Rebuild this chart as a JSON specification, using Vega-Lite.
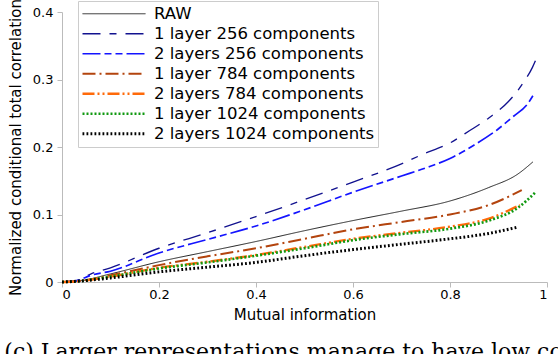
{
  "$schema": "https://vega.github.io/schema/vega-lite/v6.json",
  "width": 485,
  "height": 270,
  "autosize": {"type": "none"},
  "padding": {"left": 62, "top": 12, "right": 11, "bottom": 72},
  "background": "white",
  "title": {
    "text": "(c) Larger representations manage to have low con",
    "orient": "bottom",
    "anchor": "start",
    "frame": "bounds",
    "font": "DejaVu Serif",
    "fontSize": 22,
    "fontWeight": "normal",
    "color": "black",
    "offset": 20,
    "dx": -4
  },
  "config": {
    "view": {"stroke": null},
    "font": "DejaVu Sans",
    "axis": {
      "grid": false,
      "domainColor": "#bbbbbb",
      "tickColor": "#bbbbbb",
      "tickSize": 5,
      "labelFont": "DejaVu Sans",
      "labelFontSize": 13,
      "labelColor": "black",
      "titleFont": "DejaVu Sans",
      "titleFontSize": 15,
      "titleFontWeight": "normal",
      "titleColor": "black"
    }
  },
  "data": {
    "values": [
      {"series": "RAW", "x": 0, "y": 0},
      {"series": "RAW", "x": 0.03, "y": 0.001},
      {"series": "RAW", "x": 0.1, "y": 0.012},
      {"series": "RAW", "x": 0.2, "y": 0.030},
      {"series": "RAW", "x": 0.3, "y": 0.045},
      {"series": "RAW", "x": 0.4, "y": 0.060},
      {"series": "RAW", "x": 0.5, "y": 0.076},
      {"series": "RAW", "x": 0.6, "y": 0.091},
      {"series": "RAW", "x": 0.7, "y": 0.105},
      {"series": "RAW", "x": 0.8, "y": 0.120},
      {"series": "RAW", "x": 0.88, "y": 0.140},
      {"series": "RAW", "x": 0.94, "y": 0.160},
      {"series": "RAW", "x": 0.971, "y": 0.178},

      {"series": "1 layer 256 components", "x": 0, "y": 0},
      {"series": "1 layer 256 components", "x": 0.03, "y": 0.002},
      {"series": "1 layer 256 components", "x": 0.06, "y": 0.012},
      {"series": "1 layer 256 components", "x": 0.1, "y": 0.021},
      {"series": "1 layer 256 components", "x": 0.2, "y": 0.050},
      {"series": "1 layer 256 components", "x": 0.3, "y": 0.073},
      {"series": "1 layer 256 components", "x": 0.4, "y": 0.097},
      {"series": "1 layer 256 components", "x": 0.5, "y": 0.122},
      {"series": "1 layer 256 components", "x": 0.6, "y": 0.148},
      {"series": "1 layer 256 components", "x": 0.7, "y": 0.175},
      {"series": "1 layer 256 components", "x": 0.74, "y": 0.188},
      {"series": "1 layer 256 components", "x": 0.8, "y": 0.206},
      {"series": "1 layer 256 components", "x": 0.84, "y": 0.224},
      {"series": "1 layer 256 components", "x": 0.88, "y": 0.243},
      {"series": "1 layer 256 components", "x": 0.92, "y": 0.267},
      {"series": "1 layer 256 components", "x": 0.95, "y": 0.294},
      {"series": "1 layer 256 components", "x": 0.97, "y": 0.318},
      {"series": "1 layer 256 components", "x": 0.981, "y": 0.336},

      {"series": "2 layers 256 components", "x": 0, "y": 0},
      {"series": "2 layers 256 components", "x": 0.03, "y": 0.002},
      {"series": "2 layers 256 components", "x": 0.06, "y": 0.010},
      {"series": "2 layers 256 components", "x": 0.1, "y": 0.016},
      {"series": "2 layers 256 components", "x": 0.2, "y": 0.043},
      {"series": "2 layers 256 components", "x": 0.3, "y": 0.063},
      {"series": "2 layers 256 components", "x": 0.4, "y": 0.083},
      {"series": "2 layers 256 components", "x": 0.5, "y": 0.107},
      {"series": "2 layers 256 components", "x": 0.6, "y": 0.133},
      {"series": "2 layers 256 components", "x": 0.7, "y": 0.157},
      {"series": "2 layers 256 components", "x": 0.75, "y": 0.169},
      {"series": "2 layers 256 components", "x": 0.8, "y": 0.183},
      {"series": "2 layers 256 components", "x": 0.85, "y": 0.203},
      {"series": "2 layers 256 components", "x": 0.9, "y": 0.227},
      {"series": "2 layers 256 components", "x": 0.93, "y": 0.245},
      {"series": "2 layers 256 components", "x": 0.96, "y": 0.264},
      {"series": "2 layers 256 components", "x": 0.975, "y": 0.281},

      {"series": "1 layer 784 components", "x": 0, "y": 0},
      {"series": "1 layer 784 components", "x": 0.03, "y": 0.001},
      {"series": "1 layer 784 components", "x": 0.1, "y": 0.010},
      {"series": "1 layer 784 components", "x": 0.2, "y": 0.025},
      {"series": "1 layer 784 components", "x": 0.3, "y": 0.038},
      {"series": "1 layer 784 components", "x": 0.4, "y": 0.050},
      {"series": "1 layer 784 components", "x": 0.5, "y": 0.064},
      {"series": "1 layer 784 components", "x": 0.6, "y": 0.078},
      {"series": "1 layer 784 components", "x": 0.7, "y": 0.089},
      {"series": "1 layer 784 components", "x": 0.8, "y": 0.100},
      {"series": "1 layer 784 components", "x": 0.88, "y": 0.114},
      {"series": "1 layer 784 components", "x": 0.948, "y": 0.136},

      {"series": "2 layers 784 components", "x": 0, "y": 0},
      {"series": "2 layers 784 components", "x": 0.03, "y": 0.001},
      {"series": "2 layers 784 components", "x": 0.1, "y": 0.008},
      {"series": "2 layers 784 components", "x": 0.2, "y": 0.021},
      {"series": "2 layers 784 components", "x": 0.3, "y": 0.030},
      {"series": "2 layers 784 components", "x": 0.4, "y": 0.040},
      {"series": "2 layers 784 components", "x": 0.5, "y": 0.052},
      {"series": "2 layers 784 components", "x": 0.6, "y": 0.064},
      {"series": "2 layers 784 components", "x": 0.7, "y": 0.073},
      {"series": "2 layers 784 components", "x": 0.8, "y": 0.082},
      {"series": "2 layers 784 components", "x": 0.88, "y": 0.094},
      {"series": "2 layers 784 components", "x": 0.944, "y": 0.114},

      {"series": "1 layer 1024 components", "x": 0, "y": 0},
      {"series": "1 layer 1024 components", "x": 0.03, "y": 0.001},
      {"series": "1 layer 1024 components", "x": 0.1, "y": 0.008},
      {"series": "1 layer 1024 components", "x": 0.2, "y": 0.020},
      {"series": "1 layer 1024 components", "x": 0.3, "y": 0.029},
      {"series": "1 layer 1024 components", "x": 0.4, "y": 0.039},
      {"series": "1 layer 1024 components", "x": 0.5, "y": 0.050},
      {"series": "1 layer 1024 components", "x": 0.6, "y": 0.062},
      {"series": "1 layer 1024 components", "x": 0.7, "y": 0.071},
      {"series": "1 layer 1024 components", "x": 0.8, "y": 0.079},
      {"series": "1 layer 1024 components", "x": 0.88, "y": 0.091},
      {"series": "1 layer 1024 components", "x": 0.94, "y": 0.110},
      {"series": "1 layer 1024 components", "x": 0.975, "y": 0.132},

      {"series": "2 layers 1024 components", "x": 0, "y": 0},
      {"series": "2 layers 1024 components", "x": 0.03, "y": 0.001},
      {"series": "2 layers 1024 components", "x": 0.1, "y": 0.006},
      {"series": "2 layers 1024 components", "x": 0.2, "y": 0.015},
      {"series": "2 layers 1024 components", "x": 0.3, "y": 0.022},
      {"series": "2 layers 1024 components", "x": 0.4, "y": 0.029},
      {"series": "2 layers 1024 components", "x": 0.5, "y": 0.039},
      {"series": "2 layers 1024 components", "x": 0.6, "y": 0.048},
      {"series": "2 layers 1024 components", "x": 0.7, "y": 0.056},
      {"series": "2 layers 1024 components", "x": 0.8, "y": 0.064},
      {"series": "2 layers 1024 components", "x": 0.88, "y": 0.072},
      {"series": "2 layers 1024 components", "x": 0.938, "y": 0.081}
    ]
  },
  "mark": {"type": "line", "clip": false, "interpolate": "monotone"},
  "encoding": {
    "x": {
      "field": "x", "type": "quantitative",
      "scale": {"domain": [0, 1], "nice": false, "zero": false},
      "axis": {"title": "Mutual information", "values": [0, 0.2, 0.4, 0.6, 0.8, 1], "format": "~g", "labelPadding": 1, "titlePadding": 6}
    },
    "y": {
      "field": "y", "type": "quantitative",
      "scale": {"domain": [0, 0.4], "nice": false},
      "axis": {"title": "Normalized conditional total correlation", "values": [0, 0.1, 0.2, 0.3, 0.4], "format": "~g", "labelPadding": 4, "titlePadding": 9}
    },
    "color": {
      "field": "series", "type": "nominal",
      "scale": {
        "domain": ["RAW", "1 layer 256 components", "2 layers 256 components", "1 layer 784 components", "2 layers 784 components", "1 layer 1024 components", "2 layers 1024 components"],
        "range": ["#222222", "#12128f", "#1414ff", "#b3440e", "#ff6a0a", "#119911", "#000000"]
      },
      "legend": {
        "title": null,
        "orient": "none",
        "legendX": 16,
        "legendY": -11,
        "symbolType": "stroke",
        "symbolSize": 3969,
        "clipHeight": 19.5,
        "rowPadding": 0,
        "labelFont": "DejaVu Sans",
        "labelFontSize": 16.5,
        "labelColor": "black",
        "labelOffset": 7,
        "padding": 3,
        "strokeColor": "#cccccc",
        "fillColor": "white",
        "cornerRadius": 0,
        "labelLimit": 400
      }
    },
    "strokeDash": {
      "field": "series", "type": "nominal",
      "scale": {
        "domain": ["RAW", "1 layer 256 components", "2 layers 256 components", "1 layer 784 components", "2 layers 784 components", "1 layer 1024 components", "2 layers 1024 components"],
        "range": [[1, 0], [18, 9, 7, 9], [18, 4, 7, 4, 7, 4], [13, 4, 2, 4], [12, 3, 2, 3, 2, 3], [2, 2], [1.8, 2.2]]
      }
    },
    "strokeWidth": {
      "field": "series", "type": "nominal",
      "scale": {
        "domain": ["RAW", "1 layer 256 components", "2 layers 256 components", "1 layer 784 components", "2 layers 784 components", "1 layer 1024 components", "2 layers 1024 components"],
        "range": [1, 3, 3, 3, 3, 2.2, 2]
      }
    }
  }
}
